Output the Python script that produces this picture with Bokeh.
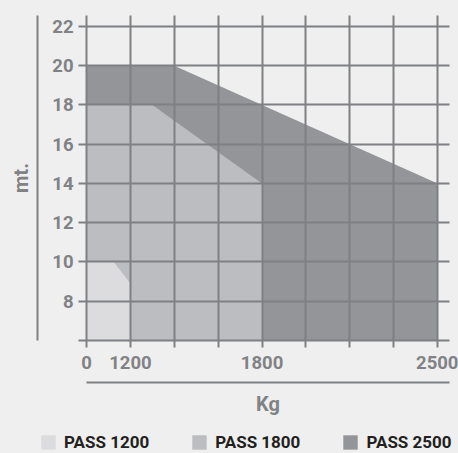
from bokeh.plotting import figure
from bokeh.layouts import column
from bokeh.models import (Range1d, FixedTicker, LinearAxis, Legend, LegendItem,
                          GlobalInlineStyleSheet)
from bokeh.embed import file_html
from bokeh.resources import INLINE

# ---- data ----
x_positions = [0, 1, 2, 3, 4, 5, 6, 7, 8]
x_tick_labels = ["0", "1200", "", "", "1800", "", "", "", "2500"]
y_ticks = [6, 8, 10, 12, 14, 16, 18, 20, 22]
series_names = ["PASS 1200", "PASS 1800", "PASS 2500"]
pass1200_x = [0, 0, 0.62, 1, 1]
pass1200_y = [6, 10, 10, 8.9, 6]
pass1800_x = [0, 0, 1.5, 4, 4]
pass1800_y = [6, 18, 18, 14, 6]
pass2500_x = [0, 0, 2, 8, 8]
pass2500_y = [6, 20, 20, 14, 6]
series_colors = ["#dcdcde", "#bcbdc0", "#939598"]

BG = "#efefef"
GRID = "#7f8083"
LABEL = "#818285"
FONT = "Roboto"

p = figure(width=458, height=430, output_backend="svg", toolbar_location=None,
           x_range=Range1d(0, 8.27), y_range=Range1d(6, 22.56),
           min_border_left=86, min_border_right=9, min_border_top=15,
           min_border_bottom=90,
           background_fill_color=BG, border_fill_color=BG, outline_line_color=None)
p.stylesheets = [GlobalInlineStyleSheet(css="body { background: #efefef; }")]

r2500 = p.patch(pass2500_x, pass2500_y, fill_color=series_colors[2], line_color=None)
r1800 = p.patch(pass1800_x, pass1800_y, fill_color=series_colors[1], line_color=None)
r1200 = p.patch(pass1200_x, pass1200_y, fill_color=series_colors[0], line_color=None)

# main axes
xa = p.xaxis[0]
xa.ticker = FixedTicker(ticks=x_positions)
xa.major_label_overrides = {pos: lab for pos, lab in zip(x_positions, x_tick_labels)}
ya = p.yaxis[0]
ya.ticker = FixedTicker(ticks=y_ticks)
ya.major_label_overrides = {6: ""}
for ax, out, st in ((xa, 7, 8), (ya, 8, 5)):
    ax.axis_line_color = GRID
    ax.axis_line_width = 2
    ax.major_tick_line_color = GRID
    ax.major_tick_line_width = 2
    ax.major_tick_in = 0
    ax.major_tick_out = out
    ax.minor_tick_line_color = None
    ax.major_label_standoff = st
    ax.major_label_text_font = FONT
    ax.major_label_text_font_style = "bold"
    ax.major_label_text_font_size = "18.5px"
    ax.major_label_text_color = LABEL
ya.axis_label = " "
ya.axis_label_text_font_size = "8px"
ya.axis_label_standoff = 0
xa.axis_label = " "
xa.axis_label_text_font_size = "4px"
xa.axis_label_standoff = 3

p.xgrid.ticker = FixedTicker(ticks=x_positions)
p.ygrid.ticker = FixedTicker(ticks=y_ticks)
for g in (p.xgrid[0], p.ygrid[0]):
    g.grid_line_color = GRID
    g.grid_line_width = 2
    g.level = "overlay"

# outer decorative axes with titles
def outer_axis(label, standoff):
    return LinearAxis(ticker=FixedTicker(ticks=[]), axis_label=label,
                      axis_line_color=GRID, axis_line_width=2,
                      major_tick_line_color=None, minor_tick_line_color=None,
                      axis_label_standoff=standoff,
                      axis_label_text_font=FONT, axis_label_text_font_style="bold",
                      axis_label_text_font_size="20px",
                      axis_label_text_color=LABEL)

p.add_layout(outer_axis("mt.", 5), "left")
p.add_layout(outer_axis("Kg", 9), "below")

# ---- legend strip (its patches lie outside its visible range) ----
lg = figure(width=458, height=23, output_backend="svg", toolbar_location=None,
            x_range=Range1d(100, 101), y_range=Range1d(100, 101),
            min_border=0, background_fill_color=BG, border_fill_color=BG,
            outline_line_color=None)
if hasattr(lg, "frame_align"):
    lg.frame_align = False
    p.frame_align = False
lg.axis.visible = False
lg.grid.visible = False
lg_renderers = [lg.patch(xs, ys, fill_color=c, line_color=None)
                for xs, ys, c in zip([pass1200_x, pass1800_x, pass2500_x],
                                     [pass1200_y, pass1800_y, pass2500_y],
                                     series_colors)]
legend = Legend(items=[LegendItem(label=n, renderers=[r])
                       for n, r in zip(series_names, lg_renderers)],
                orientation="horizontal", location=(39, 1),
                glyph_width=18, glyph_height=18, label_standoff=7, spacing=41,
                padding=0, margin=0, background_fill_alpha=0, border_line_color=None,
                label_text_font=FONT, label_text_font_style="bold",
                label_text_font_size="17px", label_text_color="#231f20")
lg.add_layout(legend)

layout = column(p, lg, spacing=0)
open("out.html", "w").write(file_html(layout, INLINE))
